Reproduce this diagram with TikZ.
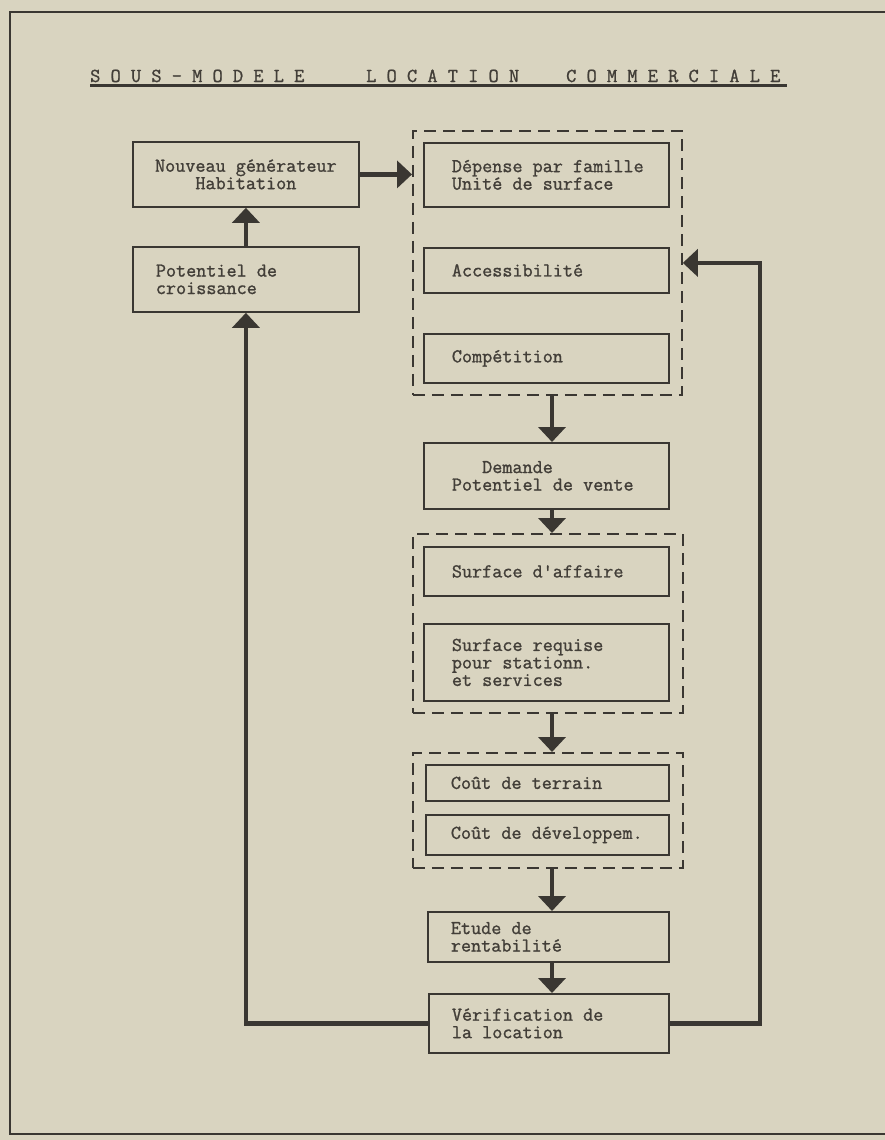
\documentclass[tikz,border=0pt]{standalone}
\usepackage{fontspec}
\newfontfamily\tw{Latin Modern Mono}[WordSpace={1,0,0}, FakeBold=1.2]
\newcommand\fx{\spaceskip=0pt\xspaceskip=0pt\relax}
\usetikzlibrary{arrows.meta}
\definecolor{paper}{RGB}{217,212,192}
\definecolor{ink}{RGB}{58,55,50}
\definecolor{txt}{RGB}{66,62,56}
\begin{document}
\begin{tikzpicture}[x=1pt,y=-1pt,
  box/.style={draw=ink, line width=1.8pt, anchor=north west, inner ysep=0pt, align=left,
    font=\tw\fontsize{19.6}{17.5}\selectfont, text=txt},
  cbox/.style={box, align=center},
  grp/.style={draw=ink, line width=1.8pt, dash pattern=on 12pt off 7pt, anchor=north west, inner sep=0pt},
  arr/.style={draw=ink, line width=4.5pt, -{Triangle[width=27pt,length=15pt]}},
  ttl/.style={anchor=base west, inner sep=0pt, font=\tw\fontsize{19.8}{18}\selectfont, text=txt}]
\fill[paper] (0,0) rectangle (885,1140);
\useasboundingbox (0,0) rectangle (885,1140);
% frame
\draw[ink, line width=1.6pt] (892,12) -- (10,12) -- (10,1134) -- (892,1134);
% title
\node[ttl] (t1) at (90,82) {S O U S - M O D E L E};
\node[ttl] (t2) at (366,82) {L O C A T I O N};
\node[ttl] (t3) at (566,82) {C O M M E R C I A L E};
\draw[ink, line width=2.2pt] ([yshift=-3.5pt]t1.base west) -- ([xshift=6pt,yshift=-3.5pt]t3.base east);
% left column
\node[cbox, minimum width=226pt, minimum height=65pt, text width=206pt, inner xsep=10pt] (nouv) at (132,141) {\fx Nouveau~générateur\\Habitation};
\node[box, minimum width=226pt, minimum height=65pt, text width=180pt, inner xsep=23pt] (pot) at (132,246) {\fx Potentiel~de\\croissance};
% group 1
\node[grp, minimum width=269pt, minimum height=264pt] (g1) at (412,130) {};
\node[box, minimum width=245pt, minimum height=64pt, text width=189pt, inner xsep=28pt] (dep) at (423,142) {\fx Dépense~par~famille\\Unité~de~surface};
\node[box, minimum width=245pt, minimum height=45pt, text width=189pt, inner xsep=28pt] (acc) at (423,247) {\fx Accessibilité};
\node[box, minimum width=245pt, minimum height=49pt, text width=189pt, inner xsep=28pt] (comp) at (423,333) {\fx Compétition};
% demande
\node[box, minimum width=245pt, minimum height=66pt, text width=189pt, inner xsep=28pt] (dem) at (423,442) {\fx\hphantom{xxx}Demande\\Potentiel~de~vente};
% group 2
\node[grp, minimum width=270pt, minimum height=179pt] (g2) at (412,533) {};
\node[box, minimum width=245pt, minimum height=49pt, text width=189pt, inner xsep=28pt] (saff) at (423,546) {\fx Surface~d'affaire};
\node[box, minimum width=245pt, minimum height=77pt, text width=189pt, inner xsep=28pt] (sreq) at (423,623) {\fx Surface~requise\\pour~stationn.\\et~services};
% group 3
\node[grp, minimum width=270pt, minimum height=115pt] (g3) at (412,752) {};
\node[box, minimum width=243pt, minimum height=36pt, text width=193pt, inner xsep=25pt] (cter) at (425,764) {\fx Coût~de~terrain};
\node[box, minimum width=243pt, minimum height=40pt, text width=193pt, inner xsep=25pt] (cdev) at (425,814) {\fx Coût~de~développem.};
% bottom
\node[box, minimum width=241pt, minimum height=50pt, text width=195pt, inner xsep=23pt] (etu) at (427,911) {\fx Etude~de\\rentabilité};
\node[box, minimum width=240pt, minimum height=59pt, text width=194pt, inner xsep=23pt] (ver) at (428,993) {\fx Vérification~de\\la~location};
% connectors
\coordinate (ax) at (552,0);
\coordinate (rc) at (760,600);
\draw[arr] (nouv.east) -- (g1.west |- nouv.east);
\draw[arr] (pot.north) -- (nouv.south);
\draw[arr] (ax |- g1.south) -- (ax |- dem.north);
\draw[arr] (ax |- dem.south) -- (ax |- g2.north);
\draw[arr] (ax |- g2.south) -- (ax |- g3.north);
\draw[arr] (ax |- g3.south) -- (ax |- etu.north);
\draw[arr] (ax |- etu.south) -- (ax |- ver.north);
\draw[arr] (ver.west) -| (pot.south);
\draw[arr] (ver.east) -| (rc) |- (g1.east);
\end{tikzpicture}
\end{document}
